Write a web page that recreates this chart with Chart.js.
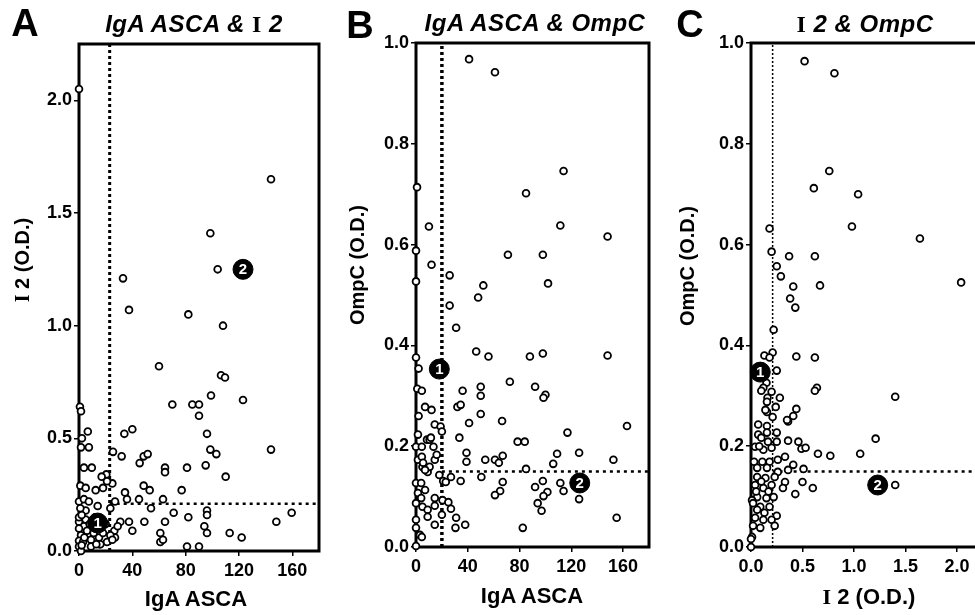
<!DOCTYPE html>
<html><head><meta charset="utf-8">
<script src="https://cdn.jsdelivr.net/npm/chart.js@4.4.1/dist/chart.umd.min.js"></script>
<style>
html,body{margin:0;padding:0;background:#fff;overflow:hidden;width:975px;height:615px;position:relative;}
canvas.c{position:absolute;top:0;}
.t{position:absolute;white-space:nowrap;font-family:"Liberation Sans",Arial,sans-serif;font-weight:bold;color:#000;transform:translate(-50%,-50%);line-height:1;}
.yt{transform:translate(-50%,-50%) rotate(-90deg);font-size:20px;}
.xt{font-size:22px;}
.pt{font-size:24px;font-style:italic;letter-spacing:0.5px;}
.pl{font-size:38px;}
.ser{font-family:"Liberation Serif","Times New Roman",serif;font-style:normal;}
</style></head><body>
<canvas id="cA" class="c" style="left:0px" width="330" height="615"></canvas>
<canvas id="cB" class="c" style="left:330px" width="330" height="615"></canvas>
<canvas id="cC" class="c" style="left:660px" width="400" height="615"></canvas>

<div class="t pl" style="left:25px;top:23px">A</div>
<div class="t pl" style="left:360px;top:25px">B</div>
<div class="t pl" style="left:690px;top:24px">C</div>

<div class="t pt" style="left:194px;top:24px">IgA ASCA &amp; <span class="ser">I</span> 2</div>
<div class="t pt" style="left:535px;top:23px">IgA ASCA &amp; OmpC</div>
<div class="t pt" style="left:865px;top:24px"><span class="ser">I</span> 2 &amp; OmpC</div>

<div class="t yt" style="left:22px;top:260px"><span class="ser">I</span> 2 (O.D.)</div>
<div class="t yt" style="left:357px;top:265px">OmpC (O.D.)</div>
<div class="t yt" style="left:687px;top:266px">OmpC (O.D.)</div>

<div class="t xt" style="left:196px;top:599px">IgA ASCA</div>
<div class="t xt" style="left:532px;top:596px">IgA ASCA</div>
<div class="t xt" style="left:869px;top:597px"><span class="ser">I</span> 2 (O.D.)</div>

<script>
// ---------- DATA ----------
// Panel A: IgA ASCA (x) vs I2 O.D. (y)
const pointsA = [[0,2.05],[144,1.65],[98.5,1.41],[104,1.25],[33,1.21],[37.5,1.07],[82,1.05],[108,1.0],[60,0.82],[106.5,0.78],[109.5,0.77],[99,0.69],[123,0.67],[70,0.65],[85,0.65],[90,0.65],[90,0.60],[0.7,0.64],[1.5,0.62],
[6.6,0.53],[2.2,0.50],[34,0.52],[40,0.54],[96,0.52],[1.5,0.46],[7.4,0.46],[25.5,0.44],[32,0.42],[48.5,0.42],[51.5,0.43],[45.5,0.39],[98.5,0.45],[103,0.43],[144,0.45],[3.7,0.37],[9.6,0.37],[64.5,0.37],[64.5,0.35],[81,0.37],[95,0.38],[110,0.33],
[20.5,0.34],[17,0.33],[1,0.29],[5,0.28],[12.5,0.27],[18,0.28],[25,0.30],[21,0.31],[48.5,0.29],[53,0.27],[77,0.27],[34.5,0.26],[36,0.23],[45,0.23],[63,0.23],[27,0.22],[0,0.22],[3.7,0.23],[7.4,0.22],[14,0.20],[23.5,0.19],
[54,0.19],[96,0.18],[96,0.16],[71,0.17],[82,0.15],[159.5,0.17],[148,0.13],[49,0.13],[64.5,0.13],[94,0.11],[96,0.08],[113,0.08],[122,0.06],[37.5,0.13],[40,0.09],[31,0.13],[26.5,0.09],[27,0.06],[61,0.08],[61,0.04],[63,0.05],[81,0.02],[90,0.02],[23.5,0.07],[21,0.04],[15.5,0.03],
[0,0.13],[0,0.15],[5,0.14],[3.7,0.11],[10,0.11],[0,0.10],[1.5,0.07],[6.6,0.075],[0,0.045],[3,0.04],[9,0.05],[15,0.06],[18,0.08],[25,0.05],[29,0.11],[0,0.02],[1.5,0.0],[9,0.02],[16,0.03],[5,0.18],[2,0.16],[8,0.12],[12,0.15],
[1,0.19],[4,0.06],[6,0.09],[2,0.025],[11,0.08],[20,0.12],[13,0.03]];
const markersA = [[14,0.124],[123,1.25]];
const cutA = {x:23, y:0.21};

// Panel B: IgA ASCA (x) vs OmpC O.D. (y)
const pointsB = [[0.8,0.714],[41,0.968],[61,0.942],[114,0.746],[85,0.702],
[10,0.636],[111.5,0.638],[148,0.616],[0,0.588],[71,0.58],[98,0.58],[12,0.56],[26,0.539],[52,0.519],[102,0.523],[0,0.527],[48,0.495],[26,0.479],[31,0.435],[0,0.376],[2,0.354],[46.5,0.388],[56,0.378],[88,0.378],[98,0.384],[148,0.38],[1,0.314],[4.5,0.31],[36,0.31],[50,0.318],[72.5,0.328],[92,0.318],[100,0.302],[98.5,0.296],[50,0.30],
[7,0.278],[12,0.272],[2,0.26],[32,0.278],[34.5,0.282],[50,0.264],[14.5,0.243],[19,0.239],[20,0.229],[41,0.246],[66.5,0.25],[163,0.24],[1.5,0.223],[8.5,0.213],[10.5,0.213],[33.5,0.217],[78.5,0.209],[84,0.209],[117,0.227],[0,0.199],[13.5,0.199],[39,0.187],[39,0.169],[53.5,0.173],[61,0.173],[67,0.181],[64,0.167],[85,0.155],[106,0.165],[109,0.185],[126,0.187],[152.5,0.173],[1.5,0.173],[5,0.159],[14.5,0.173],[9,0.149],[18,0.143],[27,0.139],[21,0.131],[0,0.127],[4,0.127],[34.5,0.131],[50.5,0.139],[67,0.129],[65,0.111],[61,0.103],[92,0.119],[98,0.131],[101.5,0.109],[98.5,0.101],[111.5,0.127],[114,0.111],[94,0.087],[97,0.072],[126,0.095],[155,0.058],[82.5,0.038],[0,0.038],[3,0.024],[4.5,0.02],[0,0.002],[7,0.113],[1.5,0.107],[4,0.097],[0,0.087],[5,0.08],[9,0.074],[14.5,0.097],[20.5,0.093],[25,0.089],[27,0.076],[14.5,0.082],[20,0.064],[31,0.058],[30.5,0.038],[38,0.044],[14.5,0.044],[9,0.06],[0,0.054],
[16,0.183],[4.5,0.179],[5.5,0.167],[10.5,0.159],[7,0.153],[23,0.129],[11.5,0.217],[4.5,0.199]];
const markersB = [[18,0.353],[126.5,0.127]];
const cutB = {x:20, y:0.15};

// Panel C: I2 O.D. (x) vs OmpC O.D. (y)
const pointsC = [[0.52,0.964],[0.81,0.94],[0.76,0.746],[0.61,0.712],[1.04,0.70],
[0.18,0.632],[0.98,0.636],[1.64,0.612],[0.2,0.586],[0.37,0.577],[0.62,0.577],[0.25,0.557],[0.29,0.537],[0.41,0.517],[0.67,0.519],[2.04,0.525],[0.38,0.493],[0.43,0.475],[0.22,0.431],[0.21,0.386],[0.13,0.38],[0.18,0.376],[0.44,0.378],[0.62,0.376],[0.25,0.35],[0.15,0.326],[0.12,0.316],[0.2,0.308],[0.64,0.316],[0.62,0.31],[1.4,0.298],[0.16,0.296],[0.28,0.296],
[0.155,0.288],[0.24,0.278],[0.155,0.268],[0.21,0.258],[0.44,0.274],[0.41,0.26],[0.36,0.249],[0.07,0.243],[0.155,0.24],[0.07,0.223],[0.155,0.227],[0.25,0.227],[0.1,0.217],[0.165,0.209],[0.25,0.209],[0.36,0.211],[0.46,0.209],[1.21,0.215],[0.49,0.195],[0.53,0.197],[0.65,0.185],[0.77,0.181],[1.06,0.185],[0.04,0.199],[0.12,0.193],[0.2,0.197],[0.33,0.179],[0.26,0.173],[0.18,0.169],[0.03,0.169],[0.11,0.169],[0.41,0.163],[0.36,0.153],[0.51,0.155],[0.26,0.149],[0.06,0.157],[0.155,0.157],[0.06,0.139],[0.14,0.137],[0.23,0.139],[0.33,0.129],[0.5,0.129],[0.31,0.117],[0.6,0.117],[0.43,0.105],[1.4,0.123],[0.04,0.123],[0.12,0.117],[0.2,0.123],[0.22,0.099],[0.06,0.099],[0.15,0.097],[0.01,0.093],[0.02,0.087],[0.09,0.08],[0.18,0.08],[0.06,0.074],[0.13,0.068],[0.25,0.062],[0.04,0.058],[0.2,0.054],[0.12,0.054],[0.23,0.042],[0.02,0.042],[0.09,0.038],[0.01,0.02],[0,0.0],[0,0.016],
[0.14,0.272],[0.35,0.252],[0.1,0.31],[0.08,0.2],[0.05,0.11],[0.1,0.13],[0.17,0.11]];
const markersC = [[0.09,0.347],[1.23,0.123]];
const cutC = {x:0.21, y:0.15};

const markerLabels = ['1','2'];

// Axis ranges / ticks
const xTicksA = {min:0, max:180, step:40};
const yTicksA = {min:0, max:2.25, step:0.5};
const xTicksB = {min:0, max:180, step:40};
const yTicksB = {min:0, max:1.0, step:0.2};
const xTicksC = {min:0, max:2.5, step:0.5};
const yTicksC = {min:0, max:1.0, step:0.2};

// ---------- RENDER ----------
const FONT = '"Liberation Sans", Arial, sans-serif';
const toXY = arr => arr.map(p => ({x:p[0], y:p[1]}));

const framePlugin = {
  id: 'frame',
  beforeDatasetsDraw(chart) {
    const {ctx, chartArea:a} = chart;
    ctx.save();
    ctx.strokeStyle = '#000';
    ctx.lineWidth = 3;
    ctx.strokeRect(a.left, a.top, a.right - a.left, a.bottom - a.top);
    ctx.restore();
  },
  afterDatasetsDraw(chart, args, opts) {
    const {ctx} = chart;
    const meta = chart.getDatasetMeta(0);
    ctx.save();
    ctx.fillStyle = '#fff';
    ctx.font = 'bold 15px ' + FONT;
    ctx.textAlign = 'center';
    ctx.textBaseline = 'middle';
    meta.data.forEach((el, i) => ctx.fillText(opts.labels[i], el.x, el.y + 1));
    ctx.restore();
  }
};

function makePanel(id, pts, markers, cut, xt, yt, layout, decX, vlineW, vDash) {
  const tickFont = {family: FONT, weight: 'bold', size: 18};
  new Chart(document.getElementById(id), {
    type: 'scatter',
    data: {
      datasets: [
        {data: toXY(markers), pointRadius: 10, pointHoverRadius: 10, backgroundColor: '#000', borderColor: '#000', borderWidth: 1, clip: false},
        {data: toXY(pts), pointRadius: 3.4, pointHoverRadius: 3.4, backgroundColor: '#fff', borderColor: '#000', borderWidth: 1.8, clip: false},
        {data: [{x: cut.x, y: yt.min}, {x: cut.x, y: yt.max}], showLine: true, pointRadius: 0, borderColor: '#000', borderWidth: vlineW, borderDash: vDash},
        {data: [{x: cut.x, y: cut.y}, {x: xt.max, y: cut.y}], showLine: true, pointRadius: 0, borderColor: '#000', borderWidth: 2.5, borderDash: [3, 4]}
      ]
    },
    options: {
      responsive: false,
      animation: false,
      events: [],
      layout: {padding: {left: 0, right: layout.right, top: layout.top, bottom: 0}},
      plugins: {legend: {display: false}, tooltip: {enabled: false}, title: {display: false}, frame: {labels: markerLabels}},
      scales: {
        x: {
          type: 'linear', min: xt.min, max: xt.max,
          afterFit: s => { s.height = layout.xh; },
          border: {display: false},
          grid: {drawOnChartArea: false, drawTicks: true, tickLength: 5, color: '#000', lineWidth: 1.5},
          ticks: {stepSize: xt.step, includeBounds: false, color: '#000', font: tickFont, padding: 4, maxRotation: 0,
                  callback: v => decX ? v.toFixed(1) : String(Math.round(v))}
        },
        y: {
          type: 'linear', min: yt.min, max: yt.max,
          afterFit: s => { s.width = layout.yw; },
          border: {display: false},
          grid: {drawOnChartArea: false, drawTicks: true, tickLength: 5, color: '#000', lineWidth: 1.5},
          ticks: {stepSize: yt.step, includeBounds: false, color: '#000', font: tickFont, padding: 2,
                  callback: v => v.toFixed(1)}
        }
      }
    },
    plugins: [framePlugin]
  });
}

makePanel('cA', pointsA, markersA, cutA, xTicksA, yTicksA, {yw: 79, xh: 64, top: 44, right: 9}, false, 3, [3, 3]);
makePanel('cB', pointsB, markersB, cutB, xTicksB, yTicksB, {yw: 86, xh: 68, top: 43, right: 7}, false, 3.5, [3, 3]);
makePanel('cC', pointsC, markersC, cutC, xTicksC, yTicksC, {yw: 91, xh: 68, top: 43, right: 51.5}, true, 1.5, [2, 2]);
</script>
</body></html>
